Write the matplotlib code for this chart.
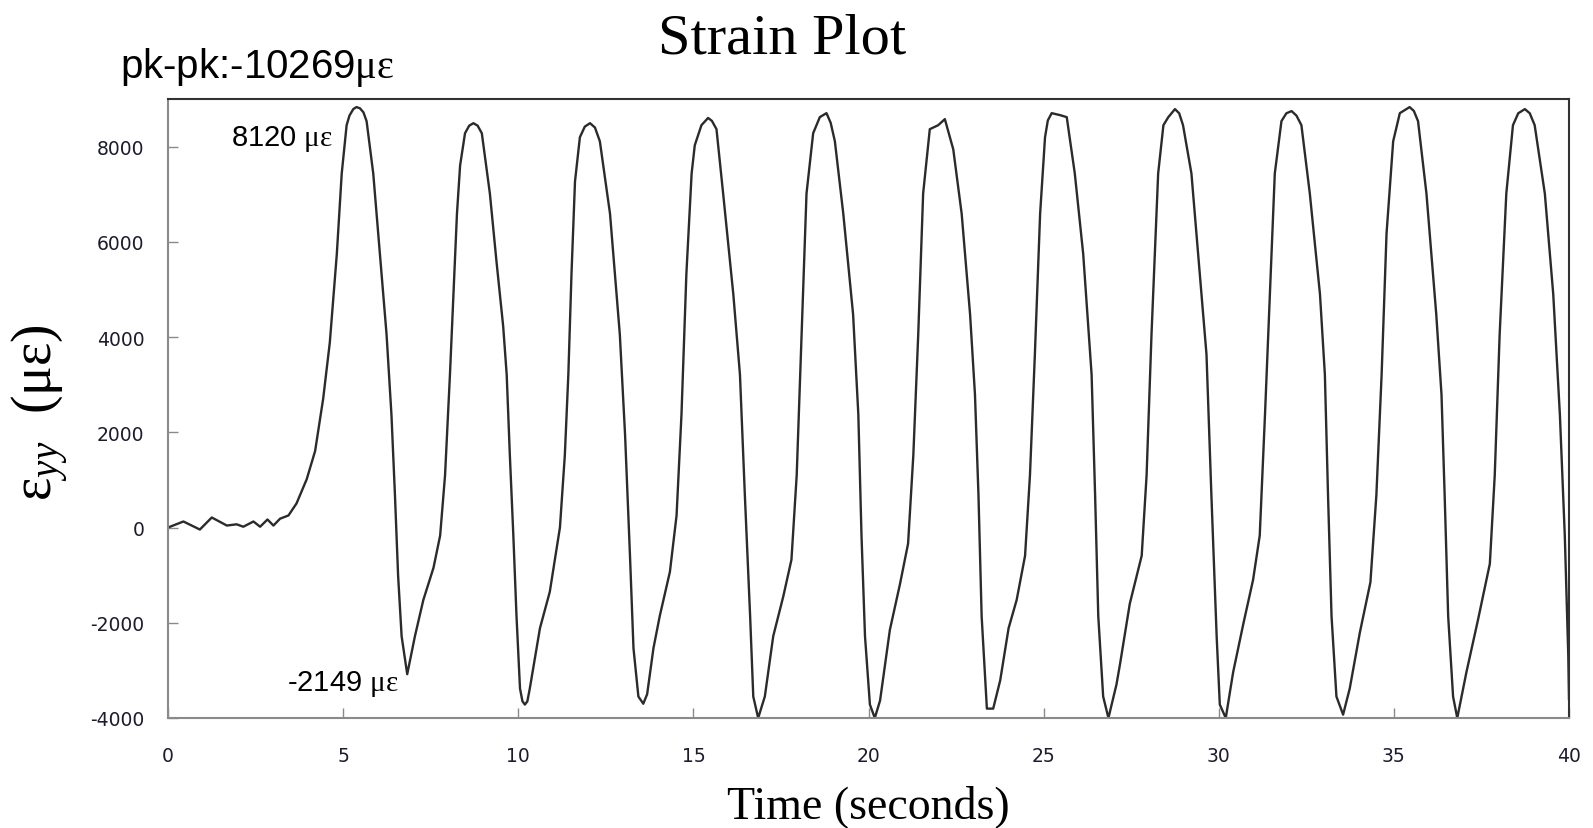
import numpy as np
import matplotlib
matplotlib.use("Agg")
import matplotlib.pyplot as plt

# time (s) and strain (micro-strain)
time_s = [0.00, 0.44, 0.91, 1.25, 1.68, 1.96, 2.15, 2.44, 2.63, 2.84, 3.01, 3.20,
          3.44, 3.67, 3.96, 4.20, 4.43, 4.62, 4.82, 4.96, 5.10, 5.18, 5.29, 5.38,
          5.48, 5.58, 5.67,
          5.86, 6.05, 6.24, 6.38, 6.48, 6.57, 6.67, 6.83, 7.05, 7.29, 7.58, 7.77,
          7.91, 8.05, 8.15, 8.25, 8.34, 8.48, 8.60, 8.72, 8.84, 8.96, 9.19, 9.38,
          9.57, 9.67,
          9.76, 9.86, 9.95, 10.05, 10.12, 10.19, 10.26, 10.33, 10.62, 10.90, 11.19,
          11.33, 11.43,
          11.52, 11.62, 11.76, 11.90, 12.05, 12.19, 12.33, 12.62, 12.90, 13.05,
          13.19, 13.29,
          13.43, 13.57, 13.68, 13.86, 14.04, 14.33, 14.52, 14.66, 14.80, 14.95,
          15.04, 15.23, 15.42, 15.53, 15.66, 15.85, 16.14, 16.33, 16.47, 16.62,
          16.71,
          16.85, 17.04, 17.28, 17.57, 17.80, 17.95, 18.09, 18.23, 18.42, 18.61,
          18.80, 18.92, 19.04, 19.28, 19.56, 19.71, 19.80, 19.90, 20.04, 20.18,
          20.33,
          20.61, 20.90, 21.13, 21.28, 21.42, 21.56, 21.75, 21.99, 22.18, 22.42,
          22.66, 22.90, 23.04, 23.14, 23.23, 23.38, 23.56, 23.76, 24.00, 24.23,
          24.47, 24.61, 24.75, 24.90, 25.04, 25.12, 25.23, 25.47, 25.66, 25.89,
          26.13,
          26.37, 26.47, 26.56, 26.70, 26.85, 27.08, 27.18, 27.46, 27.80, 27.94,
          28.08, 28.27, 28.42, 28.56, 28.75, 28.87, 28.98, 29.22, 29.46, 29.65,
          29.79,
          29.94, 30.03, 30.20, 30.41, 30.70, 30.98, 31.17, 31.32, 31.46, 31.60,
          31.79, 31.93, 32.08, 32.22, 32.36, 32.60, 32.89, 33.03, 33.12, 33.22,
          33.36, 33.55,
          33.74, 34.03, 34.33, 34.50, 34.65, 34.79, 34.98, 35.17, 35.45, 35.57,
          35.69,
          35.93, 36.21, 36.36, 36.45, 36.55, 36.69, 36.81, 37.07, 37.40, 37.74,
          37.88, 38.02, 38.21, 38.40, 38.55, 38.74, 38.88, 39.02, 39.31, 39.55,
          39.74, 39.88,
          39.98, 40.00]
strain = [0, 127, -42, 211, 42, 68, 17, 127, 17, 169, 42, 186,
          254, 507, 1014, 1606, 2704, 3887, 5746, 7436, 8450, 8650, 8788, 8830,
          8805, 8720, 8535,
          7436, 5746, 4056, 2366, 676, -1014, -2282, -3080, -2282, -1521, -845, -169,
          1099, 3211, 4901, 6591, 7605, 8281, 8440, 8492, 8440, 8281, 7014, 5577,
          4225, 3211,
          1521, -169, -1859, -3380, -3650, -3718, -3650, -3380, -2113, -1352, 0,
          1521, 3211,
          5324, 7267, 8197, 8420, 8492, 8400, 8112, 6591, 4056, 1944,
          -592, -2535,
          -3549, -3700, -3500, -2535, -1859, -930, 254, 2366, 5324, 7436,
          8028, 8450, 8602, 8540, 8366, 7014, 4901, 3211, 676, -1859,
          -3549,
          -4000, -3549, -2282, -1437, -676, 1099, 4056, 7014, 8281, 8619,
          8703, 8500, 8112, 6591, 4479, 2366, -169, -2282, -3718, -4000,
          -3634,
          -2150, -1183, -338, 1521, 4056, 7014, 8366, 8450, 8577, 7943,
          6591, 4479, 2789, 676, -1859, -3803, -3803, -3211, -2113, -1521,
          -592, 1099, 3634, 6591, 8197, 8550, 8703, 8661, 8619, 7436,
          5746,
          3211, 676, -1859, -3549, -4000, -3296, -2873, -1600, -592, 1099,
          4056, 7436, 8450, 8619, 8788, 8700, 8450, 7436, 5324, 3634,
          676,
          -2282, -3718, -4000, -3042, -2028, -1099, -169, 2366, 4901, 7436,
          8535, 8700, 8746, 8650, 8450, 7014, 4901, 3211, 676, -1859,
          -3549, -3930,
          -3380, -2200, -1150, 676, 3211, 6169, 8112, 8703, 8830, 8750,
          8535,
          7014, 4479, 2789, 676, -1859, -3549, -4000, -3042, -1944, -761,
          1099, 4056, 7014, 8450, 8700, 8788, 8700, 8450, 7014, 4901,
          2366, -169,
          -2704, -3600]

x_ticks = [0, 5, 10, 15, 20, 25, 30, 35, 40]
y_ticks = [-4000, -2000, 0, 2000, 4000, 6000, 8000]

plt.rcParams['mathtext.fontset'] = 'custom'
plt.rcParams['mathtext.rm'] = 'Liberation Serif'
plt.rcParams['mathtext.it'] = 'Liberation Serif:italic'
plt.rcParams['axes.unicode_minus'] = False

fig = plt.figure(figsize=(15.93, 8.29), dpi=100)
ax = fig.add_axes([168 / 1593, 1 - 719 / 829, (1569 - 168) / 1593, (719 - 100) / 829])

ax.plot(time_s, strain, color='#2b2b2b', lw=1.7, solid_joinstyle='round')

ax.set_xlim(0, 40)
ax.set_ylim(-4000, 9000)
ax.set_xticks(x_ticks)
ax.set_yticks(y_ticks)
ax.tick_params(direction='in', length=7, width=1.0, color='#8a8a8a',
               labelsize=13.5, labelcolor='#1c1c2e', top=False, right=False)
ax.tick_params(axis='x', pad=20)
ax.tick_params(axis='y', pad=17)

for side in ['left', 'bottom']:
    ax.spines[side].set_color('#8a8a8a')
    ax.spines[side].set_linewidth(1.5)
for side in ['top', 'right']:
    ax.spines[side].set_color('#333333')
    ax.spines[side].set_linewidth(1.5)

# annotations
ax.text(4.71, 8040, r'8120 $\mathrm{με}$', ha='right', va='baseline',
        fontsize=21, family='Liberation Sans')
ax.text(6.57, -3420, r'-2149 $\mathrm{με}$', ha='right', va='baseline',
        fontsize=21, family='Liberation Sans')

fig.text(782 / 1593, 1 - 53 / 829, 'Strain Plot', ha='center', va='baseline',
         fontsize=42, family='Liberation Serif')
fig.text(120 / 1593, 1 - 78 / 829, r'pk-pk:-10269$\mathrm{με}$', ha='left',
         va='baseline', fontsize=29, family='Liberation Sans')

fig.text(868 / 1593, 1 - 818 / 829, 'Time (seconds)', ha='center', va='baseline',
         fontsize=33, family='Liberation Serif')
fig.text(40 / 1593, 1 - 413 / 829, r'$\mathrm{ε}_{yy}$  (με)', rotation=90,
         ha='center', va='center', fontsize=40, family='Liberation Serif')

fig.savefig('out.png', dpi=100, facecolor='white')
